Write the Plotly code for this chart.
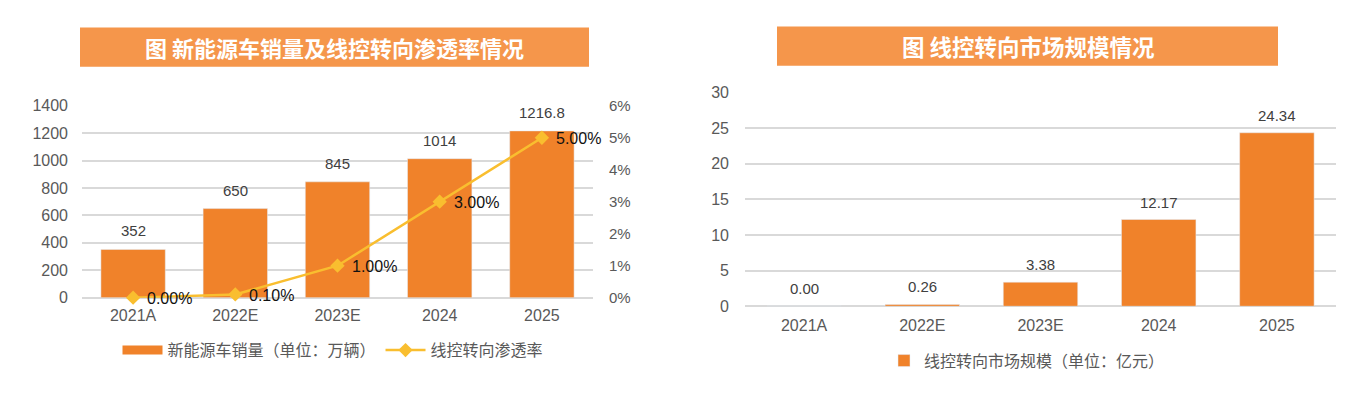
import plotly.graph_objects as go

categories = ["2021A", "2022E", "2023E", "2024", "2025"]
nev_sales = [352, 650, 845, 1014, 1216.8]
nev_labels = ["352", "650", "845", "1014", "1216.8"]
penetration = [0.0, 0.001, 0.01, 0.03, 0.05]
pen_labels = ["0.00%", "0.10%", "1.00%", "3.00%", "5.00%"]
market_size = [0.00, 0.26, 3.38, 12.17, 24.34]
market_labels = ["0.00", "0.26", "3.38", "12.17", "24.34"]

title_left = "图 新能源车销量及线控转向渗透率情况"
title_right = "图 线控转向市场规模情况"
name_sales = "新能源车销量（单位：万辆）"
name_pen = "线控转向渗透率"
name_market = "线控转向市场规模（单位：亿元）"

BAR = "#F0822A"
LINE = "#F9BE2F"
BANNER = "#F5964B"
GRID = "#D9D9D9"
TXT = "#595959"
FONT = "Liberation Sans, Noto Sans CJK SC, sans-serif"
CJK = "Noto Sans CJK SC, Liberation Sans, sans-serif"
W, H = 1351, 397
OFF = 8  # page body margin offset


def px(x):
    return (x - OFF) / W


def py(y):
    return 1 - (y - OFF) / H


fig = go.Figure()

fig.add_trace(go.Bar(
    x=categories, y=nev_sales, marker_color=BAR, name=name_sales,
    xaxis="x", yaxis="y", showlegend=False, hoverinfo="skip",
))
fig.add_trace(go.Scatter(
    x=[None], y=[None], mode="lines", name=name_sales,
    line=dict(color=BAR, width=9), xaxis="x", yaxis="y", legend="legend",
))
fig.add_trace(go.Scatter(
    x=categories, y=penetration, mode="lines+markers", name=name_pen,
    line=dict(color=LINE, width=2.5), marker=dict(symbol="diamond", size=11, color=LINE),
    xaxis="x", yaxis="y2", legend="legend", cliponaxis=False,
))
fig.add_trace(go.Bar(
    x=categories, y=market_size, marker_color=BAR, name=name_market,
    xaxis="x2", yaxis="y3", legend="legend2", showlegend=True, hoverinfo="skip",
))

# annotations positioned by category index (numeric-looking category names
# such as "2024" would otherwise be read as an index)
annotations = []
for i, (v, t) in enumerate(zip(nev_sales, nev_labels)):
    annotations.append(dict(x=i, y=v, xref="x", yref="y", text=t, showarrow=False,
                            yanchor="bottom", yshift=8,
                            font=dict(size=15, color="#404040", family=FONT)))
for i, (v, t) in enumerate(zip(penetration, pen_labels)):
    annotations.append(dict(x=i, y=v, xref="x", yref="y2", text=t, showarrow=False,
                            xanchor="left", yanchor="middle", xshift=12, yshift=-1,
                            font=dict(size=16, color="#111111", family=FONT)))
for i, (v, t) in enumerate(zip(market_size, market_labels)):
    annotations.append(dict(x=i, y=v, xref="x2", yref="y3", text=t, showarrow=False,
                            yanchor="bottom", yshift=7,
                            font=dict(size=15, color="#404040", family=FONT)))
annotations += [
    dict(text="<b>" + title_left + "</b>", xref="paper", yref="paper",
         x=px(334), y=py(39.5), showarrow=False, xanchor="center", yanchor="middle",
         font=dict(size=22, color="white", family=CJK)),
    dict(text="<b>" + title_right + "</b>", xref="paper", yref="paper",
         x=px(1028), y=py(38.5), showarrow=False, xanchor="center", yanchor="middle",
         font=dict(size=22.5, color="white", family=CJK)),
]

left_dom = [px(82), px(593)]
left_y = [py(302), py(101)]
right_dom = [px(745), px(1336)]
right_y = [py(311), py(87)]

axis_font = dict(size=16, color=TXT, family=FONT)
xrange = [-0.5, len(categories) - 0.5]

fig.update_layout(
    width=W, height=H,
    margin=dict(l=0, r=0, t=0, b=0),
    paper_bgcolor="white", plot_bgcolor="white",
    font=dict(family=FONT, color=TXT),
    bargap=0.37,
    hovermode=False,
    xaxis=dict(type="category", domain=left_dom, anchor="y", range=xrange,
               showgrid=False, showline=False,
               tickfont=dict(size=16, color=TXT, family=FONT), ticks="",
               ticklabelstandoff=6,
               categoryorder="array", categoryarray=categories),
    yaxis=dict(domain=left_y, anchor="x", range=[0, 1400], dtick=200,
               showgrid=True, gridcolor=GRID, gridwidth=1.5, zeroline=True,
               zerolinecolor=GRID, zerolinewidth=1.5, tickfont=axis_font,
               ticklabelstandoff=13, showline=False),
    yaxis2=dict(overlaying="y", anchor="x", side="right", range=[0, 0.06],
                dtick=0.01, tickformat=".0%", showgrid=False, zeroline=False,
                tickfont=dict(size=15, color=TXT, family=FONT), ticklabelstandoff=15),
    xaxis2=dict(type="category", domain=right_dom, anchor="y3", range=xrange,
                showgrid=False, showline=False,
                tickfont=dict(size=16, color=TXT, family=FONT), ticks="",
                ticklabelstandoff=8,
                categoryorder="array", categoryarray=categories),
    yaxis3=dict(domain=right_y, anchor="x2", range=[0, 30], dtick=5,
                showgrid=True, gridcolor=GRID, gridwidth=1.5, zeroline=True,
                zerolinecolor=GRID, zerolinewidth=1.5, tickfont=axis_font,
                ticklabelstandoff=15, showline=False),
    legend=dict(orientation="h", x=px(333), y=py(357), xanchor="center", yanchor="middle",
                font=dict(size=16, color=TXT, family=CJK), itemwidth=40,
                bgcolor="rgba(0,0,0,0)", traceorder="normal"),
    legend2=dict(orientation="h", x=px(1027), y=py(368), xanchor="center", yanchor="middle",
                 font=dict(size=16, color=TXT, family=CJK), itemwidth=30,
                 bgcolor="rgba(0,0,0,0)"),
    shapes=[
        dict(type="rect", xref="paper", yref="paper", x0=px(80), x1=px(589),
             y0=py(60), y1=py(19), fillcolor=BANNER, line=dict(width=0), layer="below"),
        dict(type="rect", xref="paper", yref="paper", x0=px(777), x1=px(1278),
             y0=py(59), y1=py(18), fillcolor=BANNER, line=dict(width=0), layer="below"),
    ],
    annotations=annotations,
)

fig.write_html("out.html", config={"displayModeBar": False})
